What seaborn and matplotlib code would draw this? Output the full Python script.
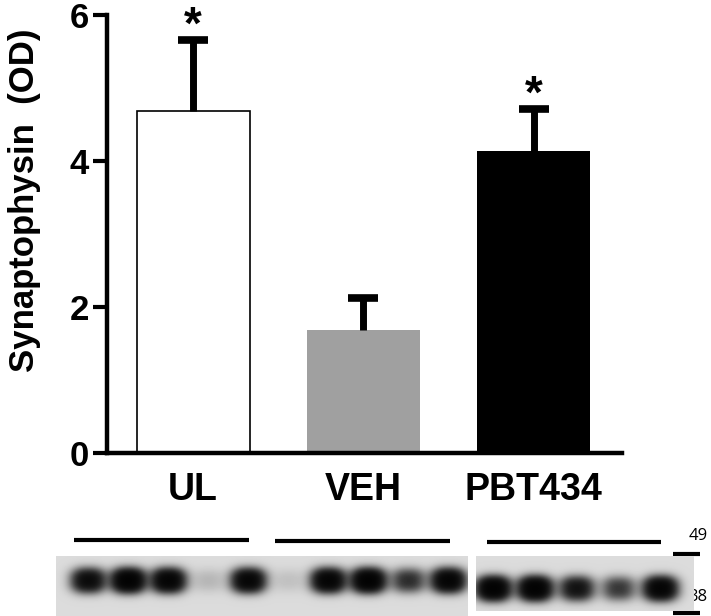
import numpy as np
import pandas as pd
import matplotlib
matplotlib.use("Agg")
import matplotlib.pyplot as plt
import seaborn as sns

# --- DATA ---
groups = ["UL", "VEH", "PBT434"]
means = [4.69, 1.68, 4.14]
sems = [0.97, 0.44, 0.57]
significant = [True, False, True]
bar_colors = {"UL": "#ffffff", "VEH": "#a0a0a0", "PBT434": "#000000"}
y_ticks = [0, 2, 4, 6]
y_label = "Synaptophysin  (OD)"

# western blot band intensities (0 = none, 1 = saturated)
blot_left = [0.75, 1.0, 0.9, 0.07, 0.85, 0.05, 0.9, 1.0, 0.45, 0.9]
blot_right = [1.0, 1.0, 0.65, 0.4, 0.9]
marker_labels = ["49", "38"]

# --- STYLE ---
sns.set_style("ticks")
plt.rcParams["font.family"] = ["Liberation Sans", "DejaVu Sans"]
plt.rcParams["font.weight"] = "bold"
for key in ["text.color", "axes.labelcolor", "xtick.color", "ytick.color",
            "axes.edgecolor"]:
    plt.rcParams[key] = "black"

W, H = 711, 616
fig = plt.figure(figsize=(W / 100, H / 100), dpi=100)


def px_rect(x0, y0, x1, y1):
    # pixel box (top-left origin) -> figure fraction
    return [x0 / W, 1 - y1 / H, (x1 - x0) / W, (y1 - y0) / H]


# 1. Bar chart
ax = fig.add_axes(px_rect(107, 15, 622, 453), zorder=2)
df = pd.DataFrame({"group": groups, "mean": means})
sns.barplot(data=df, x="group", y="mean", hue="group", palette=bar_colors,
            width=0.665, legend=False, ax=ax, saturation=1)
for patch, g in zip(ax.patches, groups):
    if g == "UL":
        patch.set_edgecolor("black")
        patch.set_linewidth(1.2)
    else:
        patch.set_edgecolor("none")

xs = np.arange(len(groups))
eb = ax.errorbar(xs, means, yerr=[np.zeros(len(sems)), sems], fmt="none",
                 ecolor="black", elinewidth=5, capsize=10.5, capthick=5.5,
                 zorder=3)
eb[1][0].set_visible(False)  # no cap at the bar top

for x, m, s, sig in zip(xs, means, sems, significant):
    if sig:
        ax.text(x, m + s + 0.02, "*", ha="center", va="baseline",
                fontsize=33, fontweight="bold", color="black")

ax.set_xlim(-0.506, 2.518)
ax.set_ylim(0, 6)
ax.set_yticks(y_ticks)
ax.set_yticklabels([str(t) for t in y_ticks])
ax.set_xlabel("")
ax.set_ylabel(y_label, fontsize=25, fontweight="bold", color="black")
ax.yaxis.set_label_coords(-0.128, 0.578)
ax.tick_params(axis="y", length=10, width=3, pad=3, labelsize=25,
               colors="black")
ax.tick_params(axis="x", length=0, pad=14, labelsize=27, colors="black")
for lab in ax.get_xticklabels() + ax.get_yticklabels():
    lab.set_fontweight("bold")
sns.despine(ax=ax)
ax.spines["left"].set_linewidth(3.2)
ax.spines["bottom"].set_linewidth(3.2)
ax.spines["left"].set_color("black")
ax.spines["bottom"].set_color("black")


# 2. Western blot panels
def blot_image(intensities, width, height, first, step, cy):
    xx, yy = np.meshgrid(np.arange(width), np.arange(height))
    dark = np.zeros((height, width))
    for i, inten in enumerate(intensities):
        cx = first + i * step
        dark += inten * np.exp(-(np.abs(xx - cx) / 16.0) ** 2.4
                               - (np.abs(yy - cy) / 11.5) ** 2.4)
    return 0.86 * (1 - np.tanh(2.4 * dark))


panels = [
    (blot_left, (56, 556, 468, 616), 32, 40, 24),
    (blot_right, (476, 556, 694, 611), 17, 41.75, 32),
]
for vals, (x0, y0, x1, y1), first, step, cy in panels:
    bax = fig.add_axes(px_rect(x0, y0, x1, y1), zorder=1)
    img = blot_image(vals, x1 - x0, y1 - y0, first, step, cy)
    bax.imshow(img, cmap="gray", vmin=0, vmax=1, aspect="auto",
               interpolation="bilinear")
    bax.axis("off")

# group bars, size markers and labels above/next to the blot
ov = fig.add_axes([0, 0, 1, 1], zorder=0)
ov.set_xlim(0, W)
ov.set_ylim(H, 0)
ov.axis("off")
for (a, b), yy in zip([(74, 249), (275, 450), (487, 661)], [540, 541, 542]):
    ov.plot([a, b], [yy, yy], color="black", lw=3, solid_capstyle="butt")
for yy in [554, 613]:
    ov.plot([673, 700], [yy, yy], color="black", lw=3, solid_capstyle="butt")
for lab, yy in zip(marker_labels, [536, 597]):
    ov.text(698, yy, lab, ha="center", va="center", fontsize=12,
            fontweight="normal", family=["Open Sans", "DejaVu Sans"])

fig.savefig("out.png", dpi=100)
